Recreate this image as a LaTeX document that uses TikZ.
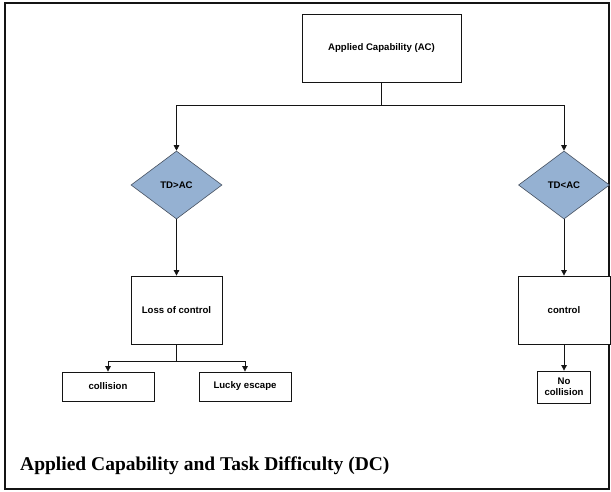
\documentclass[tikz,border=0pt]{standalone}
\usepackage{fontspec}
\setmainfont{Liberation Serif}
\setsansfont{Liberation Sans}
\usetikzlibrary{arrows.meta,positioning,calc,shapes.geometric}
\definecolor{dmdfill}{RGB}{149,177,210}
\definecolor{dmdline}{RGB}{70,80,95}
\definecolor{lnblack}{RGB}{20,20,20}
\tikzset{
  flowarr/.style={-{Triangle[length=5.5pt,width=5.5pt]}, lnblack, line width=0.8pt},
  flowln/.style={lnblack, line width=0.8pt},
  blk/.style={draw=lnblack, fill=white, line width=0.8pt, inner sep=1pt,
              align=center, font=\sffamily\bfseries\fontsize{9.6}{11}\selectfont},
  dmd/.style={diamond, draw=dmdline, fill=dmdfill, line width=0.6pt, inner sep=0pt,
              aspect=1.34, minimum width=91pt, minimum height=68pt,
              font=\sffamily\bfseries\fontsize{9.6}{11}\selectfont},
}

\begin{document}
\begin{tikzpicture}[x=1pt, y=-1pt]
  \useasboundingbox (0,0) rectangle (611,491);
  \draw[lnblack, line width=1.3pt] (5,3) rectangle (609,489);

  % decision tree
  \node[blk, minimum width=159pt, minimum height=68pt] (ac) at (381.5,48) {Applied Capability (AC)};
  \node[dmd] (tdgt) at (176.5,185) {TD>AC};
  \node[dmd] (tdlt) at (564,185) {TD<AC};
  \node[blk, minimum width=91pt, minimum height=68pt] (loss) at (176.5,310) {Loss of control};
  \node[blk, minimum width=92pt, minimum height=68pt] (ctrl) at (564,310) {control};
  \node[blk, minimum width=92pt, minimum height=29pt] (coll) at (108,386.5) {collision};
  \node[blk, minimum width=92pt, minimum height=29pt] (lucky) at (245,386.5) {Lucky escape};
  \node[blk, minimum width=53pt, minimum height=32pt] (nocoll) at (564,387) {No\\collision};

  \coordinate (acsplit) at (381.5,105);
  \coordinate (losssplit) at (176.5,361);

  \draw[flowln] (ac.south) -- (acsplit);
  \draw[flowarr] (acsplit) -| (tdgt.north);
  \draw[flowarr] (acsplit) -| (tdlt.north);
  \draw[flowarr] (tdgt.south) -- (loss.north);
  \draw[flowarr] (tdlt.south) -- (ctrl.north);
  \draw[flowln] (loss.south) -- (losssplit);
  \draw[flowarr] (losssplit) -| (coll.north);
  \draw[flowarr] (losssplit) -| (lucky.north);
  \draw[flowarr] (ctrl.south) -- (nocoll.north);

  \node[anchor=base west, inner sep=0pt, font=\rmfamily\bfseries\fontsize{19.5}{22}\selectfont] (title) at (20,470) {Applied Capability and Task Difficulty (DC)};
\end{tikzpicture}
\end{document}
